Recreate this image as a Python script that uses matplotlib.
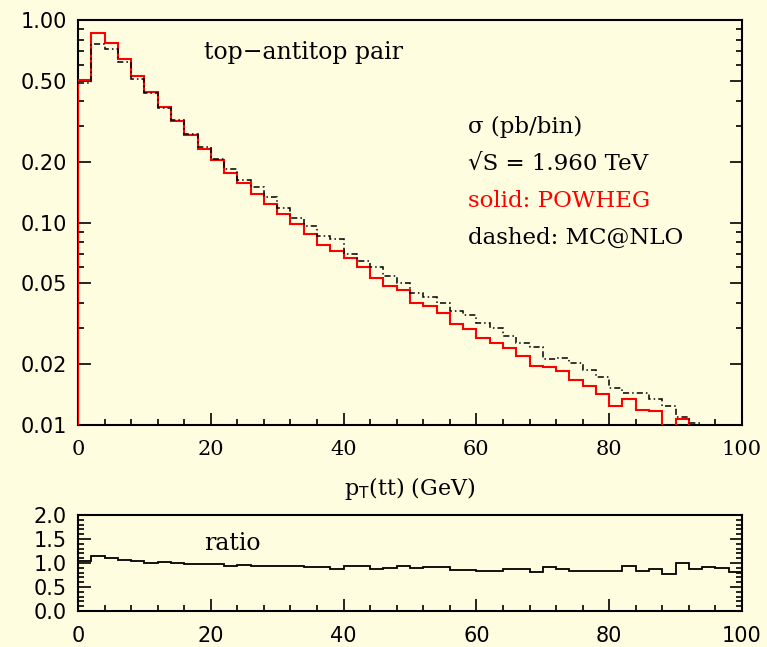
import numpy as np
import matplotlib
matplotlib.use('Agg')
import matplotlib.pyplot as plt
from matplotlib.ticker import FixedLocator, MultipleLocator, NullFormatter

# ---- data: pT(tt) spectrum, 2 GeV bins from 0 to 100 ----
bin_edges = np.arange(0, 101, 2)

powheg = [0.506, 0.86, 0.77, 0.64, 0.53, 0.441, 0.373, 0.318, 0.270, 0.231,
          0.204, 0.175, 0.156, 0.139, 0.1234, 0.110, 0.0983, 0.0877, 0.0774, 0.0726,
          0.0666, 0.0601, 0.053, 0.0486, 0.0464, 0.0399, 0.0387, 0.0356, 0.0316, 0.0298,
          0.027, 0.0255, 0.0239, 0.0219, 0.0196, 0.0193, 0.0185, 0.0167, 0.0155, 0.0142,
          0.0124, 0.0134, 0.0119, 0.0117, 0.0095, 0.0107, 0.0090, 0.0087, 0.0081, 0.0069]

mcatnlo = [0.487, 0.758, 0.716, 0.618, 0.509, 0.438, 0.369, 0.321, 0.275, 0.236,
           0.207, 0.184, 0.163, 0.149, 0.133, 0.118, 0.105, 0.0964, 0.0857, 0.0826,
           0.0699, 0.0648, 0.0601, 0.0544, 0.050, 0.045, 0.043, 0.0399, 0.0367, 0.0349,
           0.032, 0.030, 0.0276, 0.0255, 0.0244, 0.0212, 0.0214, 0.0203, 0.0187, 0.0173,
           0.0152, 0.0144, 0.0144, 0.0134, 0.0124, 0.0109, 0.0102, 0.0095, 0.0090, 0.0085]

ratio = [1.04, 1.15, 1.10, 1.06, 1.05, 1.01, 1.02, 0.99, 0.98, 0.97,
         0.97, 0.94, 0.96, 0.93, 0.93, 0.93, 0.94, 0.92, 0.91, 0.88,
         0.94, 0.94, 0.88, 0.89, 0.94, 0.90, 0.92, 0.91, 0.86, 0.86,
         0.83, 0.84, 0.88, 0.87, 0.82, 0.92, 0.87, 0.83, 0.84, 0.83,
         0.83, 0.94, 0.83, 0.88, 0.77, 1.00, 0.88, 0.92, 0.90, 0.81]

log_major = [0.01, 0.02, 0.05, 0.1, 0.2, 0.5, 1.0]
log_major_labels = ['0.01', '0.02', '0.05', '0.10', '0.20', '0.50', '1.00']
log_minor = [0.03, 0.04, 0.06, 0.07, 0.08, 0.09, 0.3, 0.4, 0.6, 0.7, 0.8, 0.9]

bg = '#fffde0'
serif = 'DejaVu Serif'
sans = 'DejaVu Sans'

fig = plt.figure(figsize=(7.67, 6.47), dpi=100, facecolor=bg)
ax = fig.add_axes([0.1017, 0.3431, 0.8657, 0.626], facecolor=bg)
axr = fig.add_axes([0.1017, 0.0556, 0.8657, 0.1484], facecolor=bg)

# ---- top panel ----
ax.stairs(powheg, bin_edges, baseline=1e-4, color='#ff0000', lw=1.5, zorder=3)
ax.stairs(mcatnlo, bin_edges, baseline=None, color='black', lw=1.1,
          linestyle=(0, (4, 2, 1, 2)), zorder=4)

ax.set_yscale('log')
ax.set_xlim(0, 100)
ax.set_ylim(0.01, 1.0)
ax.yaxis.set_major_locator(FixedLocator(log_major))
ax.yaxis.set_minor_locator(FixedLocator(log_minor))
ax.yaxis.set_minor_formatter(NullFormatter())
ax.set_yticklabels(log_major_labels, family=sans, fontsize=15)
ax.xaxis.set_major_locator(MultipleLocator(20))
ax.xaxis.set_minor_locator(MultipleLocator(4))
for lab in ax.get_xticklabels():
    lab.set_family(serif)
    lab.set_fontsize(15)

ax.set_xlabel(r'p$_\mathrm{T}$(tt) (GeV)', family=serif, fontsize=16, labelpad=11)

ax.text(0.19, 0.92, 'top\u2212antitop pair', transform=ax.transAxes,
        family=serif, fontsize=17, va='center')
info = [('σ (pb/bin)', 'black'), ('√S = 1.960 TeV', 'black'),
        ('solid: POWHEG', '#ff0000'), ('dashed: MC@NLO', 'black')]
for i, (txt, col) in enumerate(info):
    ax.text(0.588, 0.735 - i * 0.091, txt, transform=ax.transAxes,
            family=serif, fontsize=16.5, color=col, va='center')

# ---- ratio panel ----
axr.stairs(ratio, bin_edges, baseline=None, color='black', lw=1.3)
axr.set_xlim(0, 100)
axr.set_ylim(0, 2)
axr.xaxis.set_major_locator(MultipleLocator(20))
axr.xaxis.set_minor_locator(MultipleLocator(4))
axr.yaxis.set_major_locator(MultipleLocator(0.5))
axr.yaxis.set_minor_locator(MultipleLocator(0.1))
for lab in axr.get_xticklabels() + axr.get_yticklabels():
    lab.set_family(sans)
    lab.set_fontsize(15)
axr.text(0.19, 0.7, 'ratio', transform=axr.transAxes,
         family=serif, fontsize=17, va='center')

for a in (ax, axr):
    for s in a.spines.values():
        s.set_linewidth(1.5)
    a.tick_params(which='both', direction='in', top=False, right=True,
                  width=1.2, colors='black')
    a.tick_params(which='major', length=9)
    a.tick_params(which='minor', length=4.5)
ax.tick_params(axis='y', which='major', pad=8)
ax.tick_params(axis='x', which='major', pad=11)
axr.tick_params(axis='y', which='major', pad=8)
axr.tick_params(axis='x', which='major', pad=11)

fig.savefig('out.png', dpi=100, facecolor=bg)
